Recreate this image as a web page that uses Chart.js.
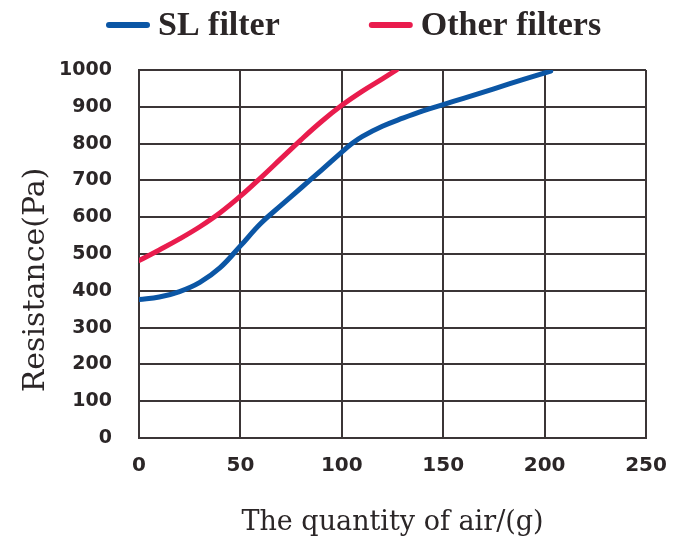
<!DOCTYPE html>
<html>
<head>
<meta charset="utf-8">
<script src="https://cdn.jsdelivr.net/npm/chart.js@4.4.0/dist/chart.umd.min.js"></script>
<style>
  html, body { margin: 0; padding: 0; background: #fff; }
</style>
</head>
<body>
<canvas id="airChart" width="674" height="545"></canvas>
<script>
// values
const slX = [0, 10, 20, 30, 40, 50, 60, 70, 80, 90, 100, 105, 110, 120, 130, 140, 150, 160, 175, 190, 203];
const slY = [376, 383, 398, 423, 463, 522, 583, 632, 680, 728, 777, 800, 819, 847, 869, 889, 906, 923, 949, 975, 997];
const otherX = [0, 10, 20, 30, 40, 50, 60, 70, 80, 90, 100, 110, 120, 127];
const otherY = [482, 511, 541, 574, 612, 657, 707, 759, 811, 860, 904, 942, 976, 1000];

const seriesNames = ['SL filter', 'Other filters'];
const xTicks = [0, 50, 100, 150, 200, 250];
const yTicks = [0, 100, 200, 300, 400, 500, 600, 700, 800, 900, 1000];
const xTitle = 'The quantity of air/(g)';
const yTitle = 'Resistance(Pa)';

const blue = '#0b56a5';
const red = '#e91c4d';
const ink = '#2b2627';
const gridInk = '#3b3536';

const toPoints = (xs, ys) => xs.map((x, i) => ({ x, y: ys[i] }));

// legend + axis titles drawn on the canvas
const decorations = {
    id: 'decorations',
    afterDraw(chart) {
        const ctx = chart.ctx;
        const area = chart.chartArea;
        ctx.save();

        // legend
        ctx.font = 'bold 34px "Liberation Serif"';
        ctx.textBaseline = 'middle';
        ctx.textAlign = 'left';
        ctx.lineCap = 'round';
        ctx.lineWidth = 6;
        let x = 109;
        const y = 25;
        chart.data.datasets.forEach(ds => {
            ctx.strokeStyle = ds.borderColor;
            ctx.beginPath();
            ctx.moveTo(x, y);
            ctx.lineTo(x + 38, y);
            ctx.stroke();
            x += 49;
            ctx.fillStyle = ink;
            ctx.fillText(ds.label, x, y + 1);
            x += ctx.measureText(ds.label).width + 92;
        });

        // axis titles
        ctx.fillStyle = ink;
        ctx.textAlign = 'center';
        ctx.font = '27px "DejaVu Serif"';
        ctx.fillText(xTitle, (area.left + area.right) / 2, 523);

        ctx.font = '30px "DejaVu Serif"';
        ctx.translate(36, 280);
        ctx.rotate(-Math.PI / 2);
        ctx.fillText(yTitle, 0, 0);
        ctx.restore();
    }
};

const ctx = document.getElementById('airChart').getContext('2d');
const airChart = new Chart(ctx, {
    type: 'line',
    data: {
        datasets: [{
            label: seriesNames[0],
            data: toPoints(slX, slY),
            borderColor: blue,
            borderWidth: 5,
            pointRadius: 0,
            tension: 0.4,
            borderCapStyle: 'round'
        }, {
            label: seriesNames[1],
            data: toPoints(otherX, otherY),
            borderColor: red,
            borderWidth: 5,
            pointRadius: 0,
            tension: 0.4,
            borderCapStyle: 'round'
        }]
    },
    options: {
        responsive: false,
        animation: false,
        devicePixelRatio: 1,
        layout: { padding: { top: 70, right: 28, left: 0, bottom: 0 } },
        plugins: {
            legend: { display: false },
            tooltip: { enabled: false }
        },
        scales: {
            x: {
                type: 'linear',
                min: 0,
                max: 250,
                afterBuildTicks: (scale) => { scale.ticks = xTicks.map(v => ({ value: v })); },
                afterFit: (scale) => {
                    scale.height = 107;
                    scale.paddingRight = 0;
                    scale.paddingLeft = 0;
                },
                grid: { color: gridInk, lineWidth: 2, drawTicks: false },
                border: { color: gridInk, width: 2 },
                ticks: {
                    padding: 16,
                    color: ink,
                    callback: (v) => String(v),
                    font: { family: '"DejaVu Sans"', weight: 'bold', size: 20 }
                }
            },
            y: {
                min: 0,
                max: 1000,
                afterBuildTicks: (scale) => { scale.ticks = yTicks.map(v => ({ value: v })); },
                afterFit: (scale) => { scale.width = 139; },
                grid: { color: gridInk, lineWidth: 2, drawTicks: false },
                border: { color: gridInk, width: 2 },
                ticks: {
                    padding: 27,
                    color: ink,
                    callback: (v) => String(v),
                    font: { family: '"DejaVu Sans"', weight: 'bold', size: 19 }
                }
            }
        }
    },
    plugins: [decorations]
});
</script>
</body>
</html>
